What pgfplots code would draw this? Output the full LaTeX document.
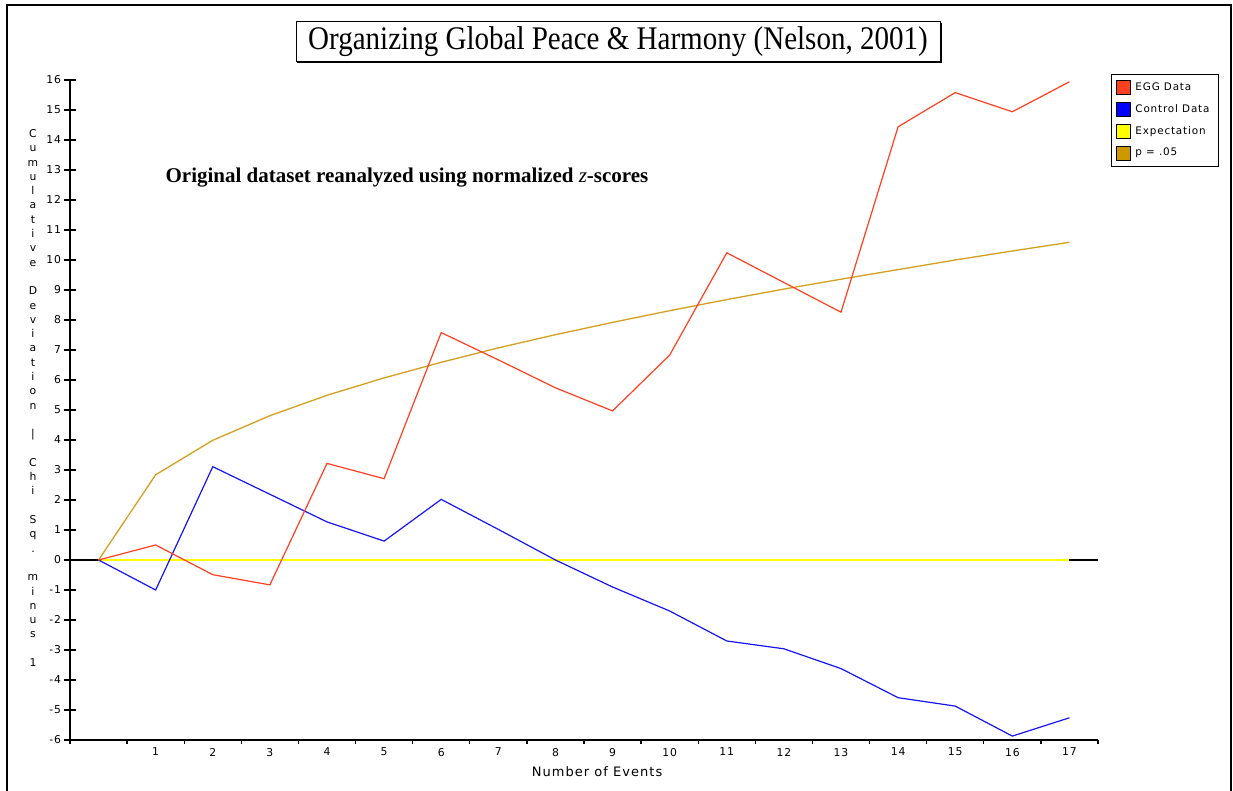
\documentclass[border=0pt]{standalone}
\usepackage{fontspec}
\usepackage{graphicx}
\usepackage{pgfplots}
\pgfplotsset{compat=1.18}
\setmainfont{Liberation Serif}
\newfontfamily\gen{DejaVu Sans}[LetterSpace=8]
\definecolor{egg}{RGB}{255,64,32}
\definecolor{ctrl}{RGB}{20,20,245}
\definecolor{expc}{RGB}{255,255,0}
\definecolor{pval}{RGB}{210,160,30}
\definecolor{pswatch}{RGB}{204,153,0}
\pgfplotstableread{
x egg ctrl expc pval
0 0 0 0 0
1 0.50 -1.00 0 2.84
2 -0.49 3.11 0 3.99
3 -0.83 2.19 0 4.81
4 3.22 1.27 0 5.49
5 2.71 0.63 0 6.07
6 7.58 2.02 0 6.59
7 6.67 1.02 0 7.07
8 5.74 0.00 0 7.51
9 4.97 -0.90 0 7.92
10 6.83 -1.70 0 8.31
11 10.24 -2.70 0 8.68
12 9.25 -2.96 0 9.03
13 8.26 -3.62 0 9.36
14 14.44 -4.59 0 9.68
15 15.58 -4.87 0 10.00
16 14.94 -5.87 0 10.30
17 15.94 -5.26 0 10.59
}\datatable
\begin{document}
\begin{tikzpicture}
\path[use as bounding box] (0,0) rectangle (616.5pt,395.5pt);
\draw[line width=0.9pt] (3.5pt,-2pt) -- (3.5pt,393pt) -- (615.5pt,393pt) -- (615.5pt,-2pt);
% title box
\draw[line width=0.5pt] (148pt,364.5pt) rectangle (470pt,384.5pt);
\draw[line width=0.5pt] (148.5pt,364pt) -- (470.5pt,364pt) -- (470.5pt,384pt);
\node at (309pt,374.5pt) {\fontsize{16.5}{18}\selectfont\scalebox{0.88}[1]{Organizing Global Peace \& Harmony (Nelson, 2001)}};
% subtitle
\node at (203.5pt,306.5pt) {\fontsize{10.5}{12}\selectfont\bfseries Original dataset reanalyzed using normalized {\mdseries\itshape z}-scores};
% stacked y label
\node[align=center, font={\gen\fontsize{5.4}{7.15}\selectfont}, inner sep=0pt] at (16.5pt,196.5pt)
{C\\u\\m\\u\\l\\a\\t\\i\\v\\e\\~\\D\\e\\v\\i\\a\\t\\i\\o\\n\\~\\|\\~\\C\\h\\i\\~\\S\\q\\.\\~\\m\\i\\n\\u\\s\\~\\1};
\begin{axis}[
  at={(35pt,25.5pt)}, anchor=south west,
  scale only axis, width=514pt, height=330pt,
  xmin=-0.5, xmax=17.5, ymin=-6, ymax=16,
  axis lines=left, axis line style={-, line width=0.8pt},
  tick align=center,
  xtick={1,...,17},
  minor xtick={-0.5,0.5,...,17.5},
  major x tick style={draw=none},
  minor x tick style={line width=0.7pt, yshift=-1pt, black},
  minor tick length=2pt,
  ytick={-6,-5,...,16},
  major tick length=6pt,
  major y tick style={line width=0.7pt, black},
  /pgf/number format/assume math mode=true,
  tick label style={font={\gen\fontsize{5.4}{6}\selectfont}},
  xticklabel style={yshift=2.5pt},
  yticklabel style={xshift=2pt},
  xlabel={Number of Events},
  xlabel style={at={(axis description cs:0.5127,0)}, anchor=center, yshift=-16pt, font={\gen\fontsize{6.5}{7.5}\selectfont}},
  legend style={at={(axis description cs:1.0126,1.0091)}, anchor=north west, draw=black, line width=0.5pt,
    font={\gen\fontsize{5.2}{6}\selectfont}, inner xsep=2.5pt, inner ysep=2pt, row sep=1.5pt},
  legend cell align=left,
]
\addplot[black, line width=0.6pt, forget plot] coordinates {(-0.5,0) (17.5,0)};
\addplot[expc, line width=0.7pt, forget plot] table[x=x, y=expc] {\datatable};
\addplot[pval, line width=0.65pt, forget plot] table[x=x, y=pval] {\datatable};
\addplot[ctrl, line width=0.6pt, forget plot] table[x=x, y=ctrl] {\datatable};
\addplot[egg, line width=0.6pt, forget plot] table[x=x, y=egg] {\datatable};
\addlegendimage{legend image code/.code={\draw[black, line width=0.5pt, fill=egg] (0pt,-3.5pt) rectangle (7pt,3.5pt);}}
\addlegendentry{EGG Data}
\addlegendimage{legend image code/.code={\draw[black, line width=0.5pt, fill=blue] (0pt,-3.5pt) rectangle (7pt,3.5pt);}}
\addlegendentry{Control Data}
\addlegendimage{legend image code/.code={\draw[black, line width=0.5pt, fill=expc] (0pt,-3.5pt) rectangle (7pt,3.5pt);}}
\addlegendentry{Expectation}
\addlegendimage{legend image code/.code={\draw[black, line width=0.5pt, fill=pswatch] (0pt,-3.5pt) rectangle (7pt,3.5pt);}}
\addlegendentry{p = .05}
\end{axis}
\end{tikzpicture}
\end{document}
